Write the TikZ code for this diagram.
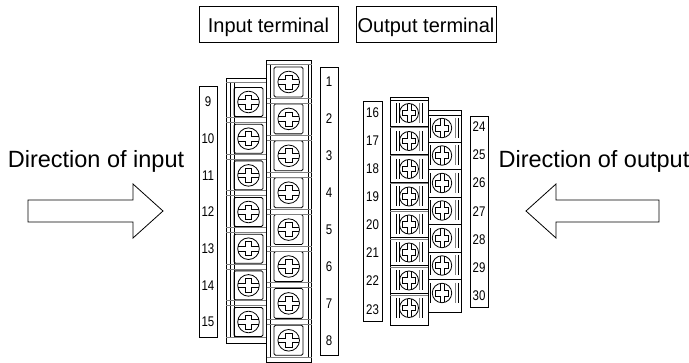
\documentclass[tikz,border=0pt]{standalone}
\usepackage{fontspec}
\setmainfont{Liberation Sans}
\newfontfamily\numfont[FakeStretch=0.82]{Liberation Sans}
\usetikzlibrary{positioning}
\tikzset{
	part/.style={line width=0.8pt},
	band/.style={line width=1pt, gray},
	title/.style={draw, line width=0.8pt, font=\fontsize{20}{22}\selectfont, minimum height=36pt, inner sep=0pt, text height=17.4pt, text depth=0pt},
	caption/.style={font=\fontsize{23.5}{25}\selectfont, inner sep=0pt},
	strip/.style={draw, line width=0.8pt, inner sep=0pt},
	num/.style={font=\numfont\fontsize{14}{16}\selectfont, inner sep=0pt},
	pics/screw/.style={code={
		\draw[part] (0,0) circle (10.8);
		\draw[line width=0.7pt] (-10.5,-2.2) -- (-3.2,-2.2) -- (-3.2,-7) -- (3.2,-7) -- (3.2,-2.2) -- (10.5,-2.2);
		\draw[line width=0.7pt] (-10.5,2.2) -- (-3.2,2.2) -- (-3.2,7) -- (3.2,7) -- (3.2,2.2) -- (10.5,2.2);
	}},
}
\begin{document}
\begin{tikzpicture}[x=1pt,y=-1pt]
\useasboundingbox (0,0) rectangle (689,363);

% titles
\node[title, minimum width=139pt](intitle) at(268.5,24){Input terminal};
\node[title, minimum width=140pt](outtitle) at(426,24){Output terminal};

% input side
\node[caption](incap) at(96,161){Direction of input};
\draw[line width=0.8pt]
(28,200) -- (133,200) -- (133,184) -- (163,211) -- (133,238) -- (133,222) -- (28,222) -- cycle
;

% input block, lower row
\draw[part] (226,78) rectangle (266,343);
\draw[band] (226,83) -- (266,83);
\draw[band] (226,337.5) -- (266,337.5);
\draw[part] (230,83) -- (230,337.5);
\draw[part] (234,83) -- (234,337.5);
\foreach[count=\i] \y in {102,138.7,175.4,212,248.7,285.4,322}{
	\draw[part, rounded corners=1.5pt] (234,\y-14.5) rectangle (263,\y+14.5);
	\pic at(248.5,\y){screw};
}
\foreach \y in {102,138.7,175.4,212,248.7,285.4}{
	\draw[band] (226,\y+15.5) -- (266,\y+15.5);
	\draw[band] (226,\y+20.5) -- (266,\y+20.5);
}

% input block, upper row
\draw[part, fill=white] (266.5,60) rectangle (311.5,362);
\draw[band] (266.5,65) -- (311.5,65);
\draw[band] (266.5,357.5) -- (311.5,357.5);
\draw[part] (270,65) -- (270,357.5);
\draw[part] (308,65) -- (308,357.5);
\foreach[count=\i] \y in {82,118.9,155.8,192.7,229.6,266.5,303.4,340.3}{
	\draw[part, fill=white, rounded corners=1.5pt] (274,\y-15) rectangle (303,\y+15);
	\pic at(288.7,\y){screw};
}
\foreach \y in {82,118.9,155.8,192.7,229.6,266.5,303.4}{
	\draw[band] (266.5,\y+16.5) -- (311.5,\y+16.5);
	\draw[band] (266.5,\y+21.5) -- (311.5,\y+21.5);
}

% input numbers
\node[strip, minimum width=18pt, minimum height=251pt](instripa) at(208,211.5){};
\node[strip, minimum width=18pt, minimum height=288pt](instripb) at(329,211){};
\foreach[count=\i] \y in {82,118.9,155.8,192.7,229.6,266.5,303.4,340.3}{
	\node[num](n\i) at(329,\y){\i};
}
\foreach[count=\i from 9] \y in {102,138.7,175.4,212,248.7,285.4,322}{
	\node[num](n\i) at(208,\y){\i};
}

% output block, upper row
\draw[part] (428,110) rectangle (461,312);
\draw[part] (428,115) -- (461,115);
\foreach \y in {128,155.5,183,210.5,238,265.5,293}{
	\pic[rotate=90, scale=0.9] at(442,\y){screw};
	\draw[part] (430,\y-10) -- (430,\y+10);
	\draw[band] (455,\y-10) -- (455,\y+10);
	\draw[part] (458,\y-10) -- (458,\y+10);
}
\foreach \y in {128,155.5,183,210.5,238,265.5}{
	\draw[part] (428,\y+14) -- (461,\y+14);
}

% output block, lower row
\draw[part, fill=white] (390,97) rectangle (428,325);
\draw[part] (390,100) -- (428,100);
\foreach \y in {113,141,169,196.5,224.5,252.5,280.5,308}{
	\pic[rotate=90, scale=0.88] at(409,\y){screw};
	\draw[part] (396,\y-10) -- (396,\y+10);
	\draw[part] (399,\y-10) -- (399,\y+10);
	\draw[band] (419,\y-10) -- (419,\y+10);
	\draw[part] (422,\y-10) -- (422,\y+10);
}
\foreach \y in {113,141,169,196.5,224.5,252.5,280.5}{
	\draw[part] (390,\y+13) -- (428,\y+13);
	\draw[band] (390,\y+15) -- (428,\y+15);
}

% output numbers
\node[strip, minimum width=19pt, minimum height=220pt](outstripa) at(372.5,211){};
\node[strip, minimum width=18pt, minimum height=191pt](outstripb) at(479,211.5){};
\foreach[count=\i from 16] \y in {113,141,169,197,225,253,281,310}{
	\node[num](n\i) at(372.5,\y){\i};
}
\foreach[count=\i from 24] \y in {127,155,183,212,240,268,296}{
	\node[num](n\i) at(479,\y){\i};
}

% output side
\node[caption](outcap) at(594,161){Direction of output};
\draw[line width=0.8pt]
(659,200) -- (556,200) -- (556,184) -- (526,211) -- (556,238) -- (556,222) -- (659,222) -- cycle
;
\end{tikzpicture}
\end{document}
